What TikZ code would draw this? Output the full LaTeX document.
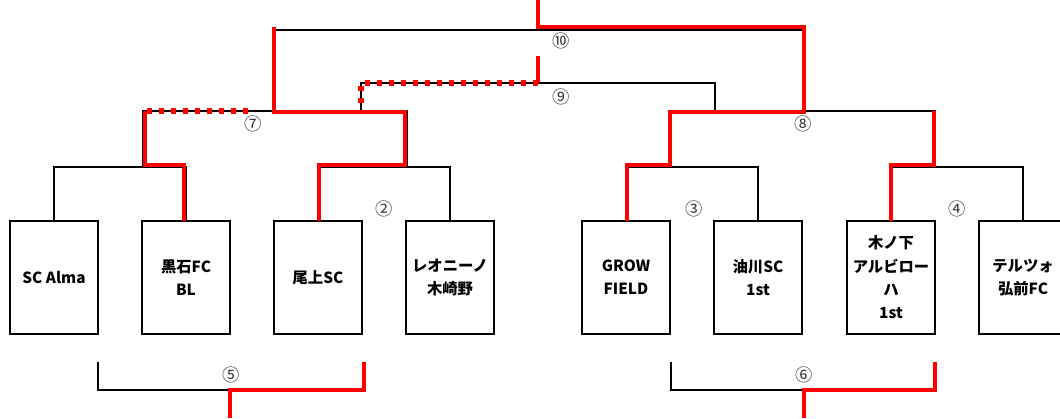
\documentclass[tikz,border=0pt]{standalone}
\usepackage{fontspec}
\setmainfont{Noto Sans CJK JP}
\begin{document}
\begin{tikzpicture}[x=0.75pt,y=-0.75pt,
  team/.style={draw,line width=1.6pt,minimum width=66pt,minimum height=84.75pt,inner sep=0pt,align=center,font=\bfseries\fontsize{11.5}{17.5}\selectfont},
  bk/.style={line width=1.3pt,line join=miter},
  rd/.style={red,line width=3.5pt,line join=miter},
  rdot/.style={red,line width=3.8pt,dash pattern=on 3.8pt off 5.2pt},
  num/.style={font=\fontsize{13}{13}\selectfont,text=black!80,inner sep=0pt}]
\useasboundingbox (0,0) rectangle (1060,418);
\clip (0,0) rectangle (1060,418);
% teams
\node[team] (b1) at (54,277.5) {SC Alma};
\node[team] (b2) at (186,277.5) {黒石FC\\BL};
\node[team] (b3) at (318,277.5) {尾上SC};
\node[team] (b4) at (450,277.5) {レオニーノ\\木崎野};
\node[team] (b5) at (626,277.5) {GROW\\FIELD};
\node[team] (b6) at (758,277.5) {油川SC\\1st};
\node[team] (b7) at (891,277.5) {木ノ下\\アルビロー\\ハ\\1st};
\node[team] (b8) at (1023,277.5) {テルツォ\\弘前FC};
% junction coordinates
\coordinate (j1) at (143,167);
\coordinate (j2) at (407,167);
\coordinate (j3) at (670,167);
\coordinate (j4) at (935,167);
\coordinate (j7l) at (143,111);
\coordinate (j7r) at (407,111);
\coordinate (j8l) at (670,111);
\coordinate (j8r) at (935,111);
\coordinate (j9l) at (361,111);
\coordinate (j9r) at (715,111);
\coordinate (j10l) at (274,111);
\coordinate (j10r) at (804,111);
\coordinate (top9) at (538,56);
\coordinate (top10) at (538,0);
\coordinate (b5l) at (98,362);
\coordinate (b5r) at (364,362);
\coordinate (b6l) at (671,362);
\coordinate (b6r) at (935,362);
\coordinate (o5) at (230,418);
\coordinate (o6) at (804,418);
% black bracket lines
\draw[bk] (b1.north) |- (j1) -| (b2.north);
\draw[bk] (b3.north) |- (j2) -| (b4.north);
\draw[bk] (b5.north) |- (j3) -| (b6.north);
\draw[bk] (b7.north) |- (j4) -| (b8.north);
\draw[bk] (j1) -- (j7l) -- (j7r) -- (j2);
\draw[bk] (j3) -- (j8l) -- (j8r) -- (j4);
\draw[bk] (j9l) |- (538,83) -| (j9r);
\draw[bk] (j10l) |- (538,30) -| (j10r);
\draw[bk] (b5l) |- (o5 |- 0,390) -| (b5r);
\draw[bk] (b6l) |- (o6 |- 0,390) -| (b6r);
% red winner lines
\draw[rd] (184,221) -- (184,165) -- (145,165) -- (145,111);
\draw[rdot] (147,111) -- (255,111);
\draw[rd] (319,221) -- (319,165) -- (405,165) -- (405,112) -- (274,112) -- (274,27);
\draw[rdot] (538,83) -- (361,83) -- (361,111);
\draw[rd] (top9) -- (538,83);
\draw[rd] (top10) -- (538,27) -- (804,27) -- (804,112) -- (670,112) -- (670,165) -- (627,165) -- (627,221);
\draw[rd] (934,111) -- (934,165) -- (891,165) -- (891,221);
\draw[rd] (b5r) -- (364,390) -- (230,390) -- (o5);
\draw[rd] (b6r) -- (935,390) -- (804,390) -- (o6);
% match numbers
\node[num] (m2) at (384,209) {②};
\node[num] (m3) at (694,209) {③};
\node[num] (m4) at (957,209) {④};
\node[num] (m5) at (231,375) {⑤};
\node[num] (m6) at (804,375) {⑥};
\node[num] (m7) at (253,124) {⑦};
\node[num] (m8) at (803,124) {⑧};
\node[num] (m9) at (561,97) {⑨};
\node[num] (m10) at (561,41) {⑩};
\end{tikzpicture}
\end{document}
